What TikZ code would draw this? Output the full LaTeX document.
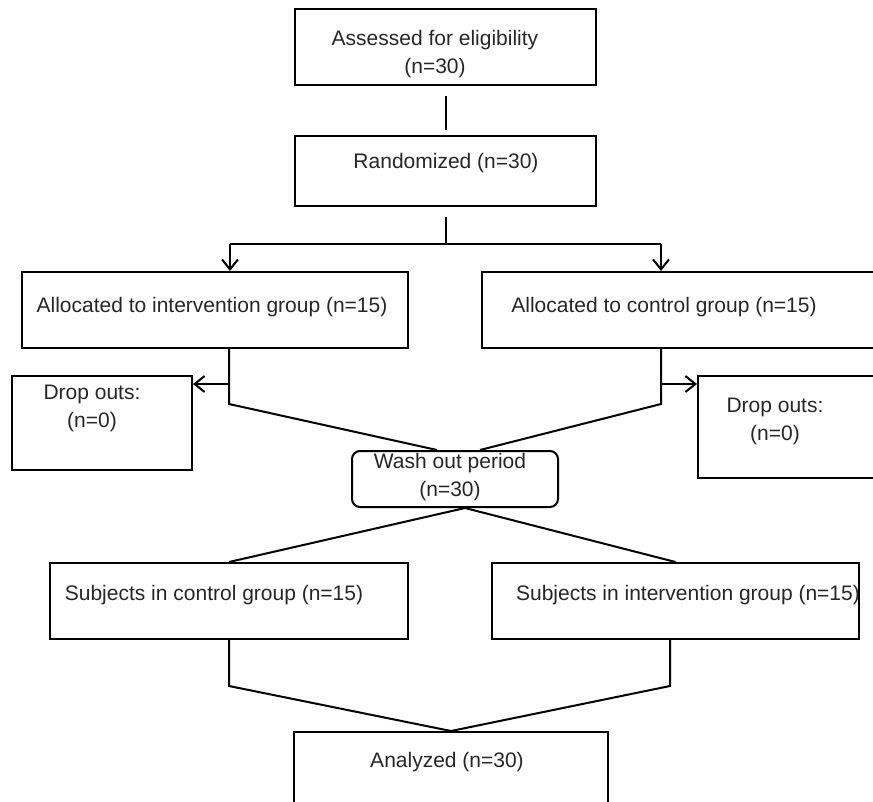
\documentclass[tikz,border=0pt]{standalone}
\usepackage{fontspec}
\setmainfont{Liberation Sans}
\usetikzlibrary{arrows.meta}

\begin{document}
\begin{tikzpicture}[x=1pt,y=-1pt,
    box/.style={draw,line width=2pt,inner sep=0pt},
    txt/.style={align=center,inner sep=0pt,text=black!85,font=\fontsize{21}{28}\selectfont},
    link/.style={line width=2pt},
    arr/.style={line width=2pt,-{Straight Barb[length=10pt,width=16pt]}}]
    \useasboundingbox (0,0) rectangle (873,801);
    \clip (0,0) rectangle (873,801);
    % boxes
    \node[box,minimum width=301pt,minimum height=76pt] (elig) at (445.5,47) {};
    \node[box,minimum width=301pt,minimum height=70pt] (rand) at (445.5,171) {};
    \node[box,minimum width=386pt,minimum height=76pt] (allocI) at (215,310) {};
    \node[box,minimum width=438pt,minimum height=76pt] (allocC) at (701,310) {};
    \node[box,minimum width=180pt,minimum height=94pt] (dropI) at (102,423) {};
    \node[box,minimum width=232pt,minimum height=102pt] (dropC) at (814,427) {};
    \node[box,rounded corners=8pt,minimum width=206pt,minimum height=56pt] (wash) at (455,479) {};
    \node[box,minimum width=358pt,minimum height=76pt] (subjC) at (229,601) {};
    \node[box,minimum width=367pt,minimum height=76pt] (subjI) at (675.5,601) {};
    \node[box,minimum width=314pt,minimum height=98pt] (anal) at (451,781) {};
    % texts
    \node[txt] (eligT) at (435,54) {Assessed for eligibility\\(n=30)};
    \node[txt] (randT) at (446,163) {Randomized (n=30)};
    \node[txt] (allocIT) at (212,307) {Allocated to intervention group (n=15)};
    \node[txt] (allocCT) at (664,307) {Allocated to control group (n=15)};
    \node[txt] (dropIT) at (92,408) {Drop outs:\\(n=0)};
    \node[txt] (dropCT) at (775,421) {Drop outs:\\(n=0)};
    \node[txt] (washT) at (450,477) {Wash out period\\(n=30)};
    \node[txt] (subjCT) at (214,595) {Subjects in control group (n=15)};
    \node[txt] (subjIT) at (688,595) {Subjects in intervention group (n=15)};
    \node[txt] (analT) at (447,762) {Analyzed (n=30)};
    % connectors
    \coordinate (split) at (445.5,244);
    \coordinate (splitI) at (230,244);
    \coordinate (splitC) at (661,244);
    \coordinate (forkI) at (229,384);
    \coordinate (forkC) at (661,384);
    \coordinate (kneeI) at (229,404);
    \coordinate (kneeC) at (661,404);
    \coordinate (kneeSC) at (229,686);
    \coordinate (kneeSI) at (670,686);
    \draw[link,shorten <=10pt,shorten >=5pt] (elig.south) -- (rand.north);
    \draw[link,shorten <=10pt] (rand.south) -- (split);
    \draw[link] (splitI) -- (splitC);
    \draw[arr] (splitI) -- (splitI |- allocI.north);
    \draw[arr] (splitC) -- (splitC |- allocC.north);
    \draw[link] (kneeI |- allocI.south) -- (kneeI) -- ([xshift=-18pt]wash.north);
    \draw[link] (kneeC |- allocC.south) -- (kneeC) -- ([xshift=25pt]wash.north);
    \draw[arr] (forkI) -- (forkI -| dropI.east);
    \draw[arr] (forkC) -- (forkC -| dropC.west);
    \draw[link] (subjC.north) -- ([xshift=10pt]wash.south) -- (subjI.north);
    \draw[link] (kneeSC |- subjC.south) -- (kneeSC) -- (anal.north);
    \draw[link] (kneeSI |- subjI.south) -- (kneeSI) -- (anal.north);
\end{tikzpicture}
\end{document}
